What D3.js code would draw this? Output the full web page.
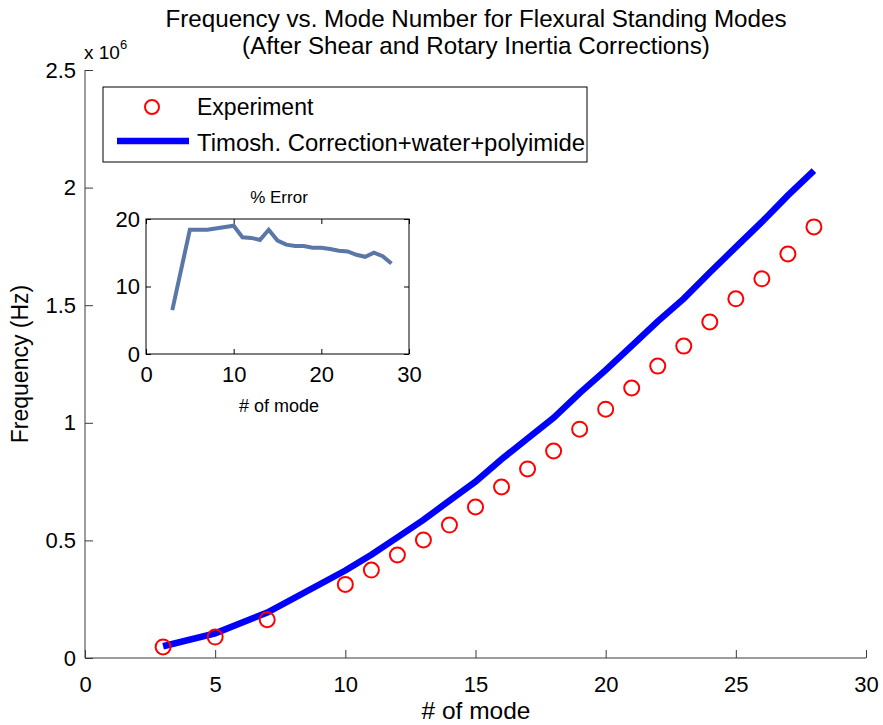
<!DOCTYPE html>
<html lang="en">

<head>
    <script src='https://d3js.org/d3.v7.min.js'></script>
    <style>
        body { margin: 0; background: white; }
        text { font-family: "Liberation Sans", Arial, sans-serif; fill: black; }
    </style>
</head>

<body>
    <script>
        // data
        const modes = [3, 5, 7, 10, 11, 12, 13, 14, 15, 16, 17, 18, 19, 20, 21, 22, 23, 24, 25, 26, 27, 28];
        // experiment frequencies (x 10^6 Hz)
        const experiment = [0.047, 0.089, 0.163, 0.313, 0.374, 0.438, 0.502, 0.565, 0.642, 0.727, 0.804,
            0.880, 0.973, 1.058, 1.148, 1.241, 1.326, 1.429, 1.527, 1.612, 1.718, 1.833];
        // Timoshenko corrected model (x 10^6 Hz)
        const timoshenko = [0.050, 0.105, 0.193, 0.372, 0.439, 0.513, 0.587, 0.669, 0.750, 0.845, 0.933,
            1.021, 1.126, 1.224, 1.327, 1.431, 1.528, 1.639, 1.747, 1.854, 1.967, 2.072];
        // % error for the inset
        const pctError = [6.5, 18.4, 18.4, 19.0, 17.3, 17.2, 16.9, 18.4, 16.8, 16.2, 16.0,
            16.0, 15.75, 15.75, 15.55, 15.3, 15.2, 14.7, 14.4, 15.0, 14.5, 13.4];

        const xTicks = [0, 5, 10, 15, 20, 25, 30];
        const yTicks = [0, 0.5, 1, 1.5, 2, 2.5];
        const insetXTicks = [0, 10, 20, 30];
        const insetYTicks = [0, 10, 20];

        const width = 883, height = 725;
        const svg = d3.select("body").append("svg")
            .attr("width", width)
            .attr("height", height);

        // main axes
        const x = d3.scaleLinear().domain([0, 30]).range([85, 866]);
        const y = d3.scaleLinear().domain([0, 2.5]).range([658, 70]);
        const axisColor = "#3a3a3a";

        // bottom axis
        const gx = svg.append("g").attr("transform", "translate(0," + y(0) + ")")
            .call(d3.axisBottom(x).tickValues(xTicks).tickSize(-8).tickPadding(18).tickFormat(d3.format("d")));
        gx.select(".domain").attr("d", "M" + x(0) + ",0H" + x(30)).attr("stroke", axisColor);
        gx.selectAll(".tick line").attr("stroke", axisColor);
        gx.selectAll(".tick text").style("font-size", "22px").attr("dy", "0.71em");

        // left axis
        const gy = svg.append("g").attr("transform", "translate(" + x(0) + ",0)")
            .call(d3.axisLeft(y).tickValues(yTicks).tickSize(-8).tickPadding(9).tickFormat(d => d));
        gy.select(".domain").attr("d", "M0," + y(0) + "V" + y(2.5)).attr("stroke", axisColor);
        gy.selectAll(".tick line").attr("stroke", axisColor);
        gy.selectAll(".tick text").style("font-size", "22px");

        // exponent label
        const expo = svg.append("text").attr("x", 84).attr("y", 59).style("font-size", "19px");
        expo.append("tspan").text("x 10");
        expo.append("tspan").attr("dy", -10).style("font-size", "13px").text("6");

        // title
        svg.append("text").attr("x", 476).attr("y", 27).attr("text-anchor", "middle")
            .style("font-size", "24.2px").text("Frequency vs. Mode Number for Flexural Standing Modes");
        svg.append("text").attr("x", 476).attr("y", 54).attr("text-anchor", "middle")
            .style("font-size", "24.2px").text("(After Shear and Rotary Inertia Corrections)");

        // axis labels
        svg.append("text").attr("x", 476).attr("y", 719).attr("text-anchor", "middle")
            .style("font-size", "24.5px").text("# of mode");
        svg.append("text").attr("transform", "translate(28," + 364 + ") rotate(-90)")
            .attr("text-anchor", "middle").style("font-size", "23px").text("Frequency (Hz)");

        // theory line
        const line = d3.line().x((d, i) => x(modes[i])).y(d => y(d));
        svg.append("path").datum(timoshenko)
            .attr("d", line)
            .attr("fill", "none")
            .attr("stroke", "#0000ff")
            .attr("stroke-width", 6.5);

        // experiment circles
        svg.selectAll(".exp").data(experiment).enter()
            .append("circle")
            .attr("cx", (d, i) => x(modes[i]))
            .attr("cy", d => y(d))
            .attr("r", 7.5)
            .attr("fill", "none")
            .attr("stroke", "#ff0000")
            .attr("stroke-width", 2);

        // legend
        const leg = svg.append("g");
        leg.append("rect").attr("x", 103).attr("y", 87).attr("width", 484).attr("height", 75)
            .attr("fill", "white").attr("stroke", "black").attr("stroke-width", 1);
        leg.append("circle").attr("cx", 152).attr("cy", 107).attr("r", 7)
            .attr("fill", "none").attr("stroke", "#ff0000").attr("stroke-width", 2);
        leg.append("line").attr("x1", 117).attr("x2", 189).attr("y1", 141).attr("y2", 141)
            .attr("stroke", "#0000ff").attr("stroke-width", 6.5);
        leg.append("text").attr("x", 197).attr("y", 115).style("font-size", "23px").text("Experiment");
        leg.append("text").attr("x", 197).attr("y", 151).style("font-size", "23px")
            .attr("textLength", 388).attr("lengthAdjust", "spacingAndGlyphs")
            .text("Timosh. Correction+water+polyimide");

        // inset
        const ix = d3.scaleLinear().domain([0, 30]).range([146, 409]);
        const iy = d3.scaleLinear().domain([0, 20]).range([354, 219]);
        const inset = svg.append("g");
        inset.append("rect").attr("x", ix(0)).attr("y", iy(20)).attr("width", ix(30) - ix(0))
            .attr("height", iy(0) - iy(20)).attr("fill", "white").attr("stroke", "black");

        const igx = inset.append("g").attr("transform", "translate(0," + iy(0) + ")")
            .call(d3.axisBottom(ix).tickValues(insetXTicks).tickSize(-5).tickPadding(12));
        const igxTop = inset.append("g").attr("transform", "translate(0," + iy(20) + ")")
            .call(d3.axisTop(ix).tickValues(insetXTicks).tickSize(-5).tickFormat(""));
        const igy = inset.append("g").attr("transform", "translate(" + ix(0) + ",0)")
            .call(d3.axisLeft(iy).tickValues(insetYTicks).tickSize(-5).tickPadding(6));
        const igyRight = inset.append("g").attr("transform", "translate(" + ix(30) + ",0)")
            .call(d3.axisRight(iy).tickValues(insetYTicks).tickSize(-5).tickFormat(""));
        [igx, igxTop, igy, igyRight].forEach(g => {
            g.select(".domain").remove();
            g.selectAll(".tick line").attr("stroke", "black");
            g.selectAll(".tick text").style("font-size", "22px");
        });

        inset.append("path").datum(pctError)
            .attr("d", d3.line().x((d, i) => ix(modes[i])).y(d => iy(d)))
            .attr("fill", "none")
            .attr("stroke", "#5b77a8")
            .attr("stroke-width", 4);

        inset.append("text").attr("x", 279).attr("y", 203).attr("text-anchor", "middle")
            .style("font-size", "17px").text("% Error");
        inset.append("text").attr("x", 279).attr("y", 412).attr("text-anchor", "middle")
            .style("font-size", "18px").text("# of mode");
    </script>
</body>

</html>
